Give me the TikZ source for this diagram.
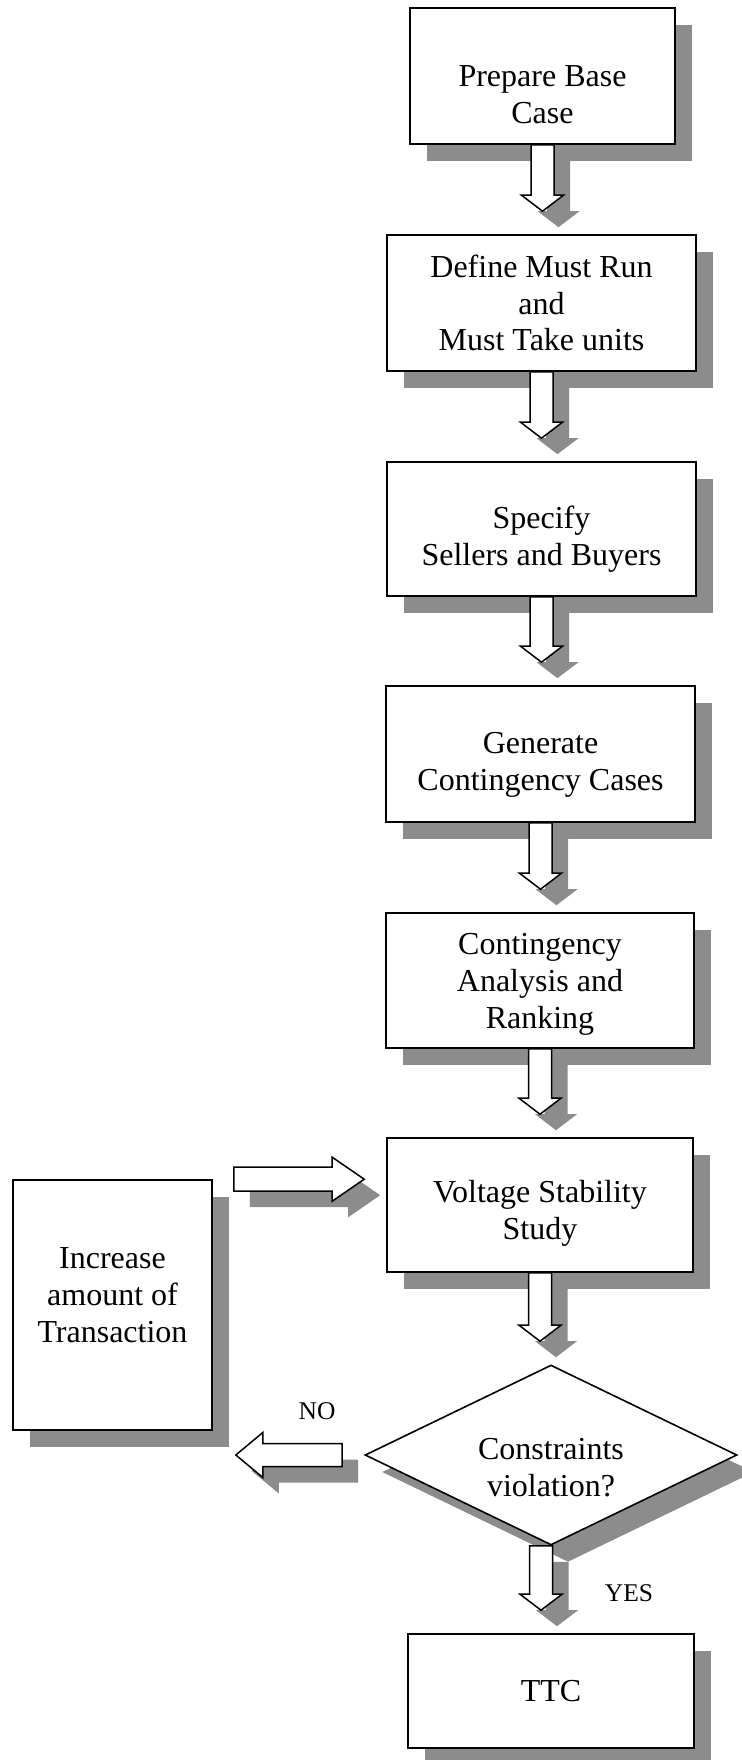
\documentclass[tikz,border=0pt]{standalone}
\usepackage{fontspec}
\setmainfont{Liberation Serif}
\usetikzlibrary{shapes.geometric,shadows,calc}
\definecolor{shadowgray}{rgb}{0.55,0.55,0.55}
% shift text down by #1 px (raise first-line height)
\newcommand\dn[1]{\rule{0pt}{\dimexpr 10.9pt+#1pt\relax}}
% shift text up by #1 px (add depth to last line)
\newcommand\up[1]{\rule[-#1pt]{0pt}{0pt}}
% vertical block arrow: #1 source anchor, #2 target node, #3 x shift, #4 style, #5 offset
\newcommand\arrdown[5]{%
\path[#4] let \p1=($(#1)+(#3,0pt)$), \p2=(#2.north) in
 ({\x1+#5-5.75pt}, {\y1-#5}) -- ({\x1+#5-5.75pt}, {\y2+19.5pt-#5})
 -- ({\x1+#5-10.5pt}, {\y2+19.5pt-#5}) -- ({\x1+#5}, {\y2+11.5pt-#5})
 -- ({\x1+#5+10.5pt}, {\y2+19.5pt-#5}) -- ({\x1+#5+5.75pt}, {\y2+19.5pt-#5})
 -- ({\x1+#5+5.75pt}, {\y1-#5}) -- cycle;}
% right block arrow from #1 (north east) to #2 (west): #3 style, #4 offset
\newcommand\arrright[4]{%
\path[#3] let \p1=(#1.north east), \p2=(#2.west) in
 ({\x1+10.5pt+#4}, {\y1+6pt-#4}) -- ({\x2-27pt+#4}, {\y1+6pt-#4})
 -- ({\x2-27pt+#4}, {\y1+11pt-#4}) -- ({\x2-11pt+#4}, {\y1-#4})
 -- ({\x2-27pt+#4}, {\y1-11pt-#4}) -- ({\x2-27pt+#4}, {\y1-6pt-#4})
 -- ({\x1+10.5pt+#4}, {\y1-6pt-#4}) -- cycle;}
% left block arrow from #1 (west) to #2 (east): #3 style, #4 offset
\newcommand\arrleft[4]{%
\path[#3] let \p1=(#1.west), \p2=(#2.east) in
 ({\x1-11pt+#4}, {\y1+5.75pt-#4}) -- ({\x2+25pt+#4}, {\y1+5.75pt-#4})
 -- ({\x2+25pt+#4}, {\y1+11.25pt-#4}) -- ({\x2+11.5pt+#4}, {\y1-#4})
 -- ({\x2+25pt+#4}, {\y1-11.25pt-#4}) -- ({\x2+25pt+#4}, {\y1-5.75pt-#4})
 -- ({\x1-11pt+#4}, {\y1-5.75pt-#4}) -- cycle;}
\begin{document}
\begin{tikzpicture}[x=0.5pt,y=-0.5pt,
 box/.style={draw, line width=0.8pt, fill=white, rectangle, align=center, inner sep=0pt,
   font=\fontsize{16pt}{18.4pt}\selectfont,
   drop shadow={shadow xshift=8.5pt,shadow yshift=-8.5pt,fill=shadowgray,opacity=1}},
 dec/.style={box, diamond, aspect=2.07},
 lbl/.style={font=\fontsize{12.75pt}{14pt}\selectfont, inner sep=0pt},
 arrshadow/.style={fill=shadowgray},
 arrbody/.style={draw, fill=white, line width=0.75pt, line join=miter}]
\path[use as bounding box, fill=white] (0,0) rectangle (742,1760);

\node[box, minimum width=132.5pt, minimum height=68pt] (b1) at (542.5,76) {\dn{18}Prepare Base\\Case};
\node[box, minimum width=154.5pt, minimum height=68pt] (b2) at (541.5,303) {Define Must Run\\and\\Must Take units};
\node[box, minimum width=154.5pt, minimum height=67pt] (b3) at (541.5,529) {\dn{10.5}Specify\\Sellers and Buyers};
\node[box, minimum width=154.5pt, minimum height=68pt] (b4) at (540.5,754) {\dn{10.5}Generate\\Contingency Cases};
\node[box, minimum width=154pt, minimum height=67.5pt] (b5) at (540,980.5) {\dn{3.5}Contingency\\Analysis and\\Ranking};
\node[box, minimum width=153pt, minimum height=67pt] (b6) at (540,1205) {\dn{8.5}Voltage Stability\\Study};
\node[dec, minimum width=186pt, minimum height=90pt] (dia) at (551,1455) {\dn{12}Constraints\\violation?};
\node[box, minimum width=143pt, minimum height=57pt] (ttc) at (551,1691) {TTC};
\node[box, minimum width=99.5pt, minimum height=125pt] (inc) at (112.5,1305) {Increase\\amount of\\Transaction\up{10}};
\node[lbl] (no) at (317,1411) {NO};
\node[lbl] (yes) at (629,1593.5) {YES};

% arrow shadows
\arrdown{b1.south}{b2}{0pt}{arrshadow}{8pt}
\arrdown{b2.south}{b3}{0pt}{arrshadow}{8pt}
\arrdown{b3.south}{b4}{0pt}{arrshadow}{8pt}
\arrdown{b4.south}{b5}{0pt}{arrshadow}{8pt}
\arrdown{b5.south}{b6}{0pt}{arrshadow}{8pt}
\arrdown{b6.south}{dia}{0pt}{arrshadow}{8pt}
\arrdown{dia.south}{ttc}{-5pt}{arrshadow}{8pt}
\arrright{inc}{b6}{arrshadow}{8pt}
\arrleft{dia}{inc}{arrshadow}{8pt}
% arrows
\arrdown{b1.south}{b2}{0pt}{arrbody}{0pt}
\arrdown{b2.south}{b3}{0pt}{arrbody}{0pt}
\arrdown{b3.south}{b4}{0pt}{arrbody}{0pt}
\arrdown{b4.south}{b5}{0pt}{arrbody}{0pt}
\arrdown{b5.south}{b6}{0pt}{arrbody}{0pt}
\arrdown{b6.south}{dia}{0pt}{arrbody}{0pt}
\arrdown{dia.south}{ttc}{-5pt}{arrbody}{0pt}
\arrright{inc}{b6}{arrbody}{0pt}
\arrleft{dia}{inc}{arrbody}{0pt}
\end{tikzpicture}
\end{document}
